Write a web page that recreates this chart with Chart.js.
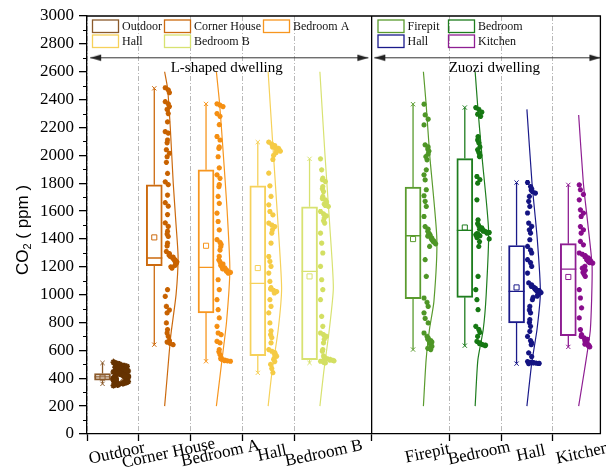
<!DOCTYPE html>
<html>
<head>
<meta charset="utf-8">
<script src="https://cdn.jsdelivr.net/npm/chart.js@4.4.0/dist/chart.umd.min.js"></script>
<style>
  html, body { margin: 0; padding: 0; background: #fff; }
  #wrap { width: 606px; height: 470px; }
</style>
</head>
<body>
<div id="wrap"><canvas id="c" width="606" height="470"></canvas></div>
<script>
// Sampling sites, left group = L-shaped dwelling, right group = Zuozi dwelling
const categories = ['Outdoor', 'Corner House', 'Bedroom A', 'Hall', 'Bedroom B', 'Firepit', 'Bedroom', 'Hall', 'Kitchen'];
const slots = [1, 2, 3, 4, 5, 7, 8, 9, 10];
const dwellings = ['L-shaped dwelling', 'Zuozi dwelling'];

// Box statistics, CO2 in ppm
const boxQ1     = [386, 1208,  869,  563,  534,  971,  981,  797,  706];
const boxMedian = [410, 1263, 1196, 1081, 1167, 1423, 1461, 1024, 1184];
const boxQ3     = [434, 1788, 1896, 1781, 1631, 1772, 1977, 1353, 1366];
const boxMean   = [405, 1411, 1351, 1191, 1131, 1399, 1482, 1052, 1127];
const whiskerLo = [360,  641,  522,  439,  510,  606,  634,  505,  625];
const whiskerHi = [510, 2481, 2369, 2095, 1975, 2367, 2343, 1805, 1788];

// Y axis tick values
const yTickStep = 200;
const yMax = 3000;

// Individual readings, ppm
const outdoorPts = [515, 508, 502, 497, 494, 490, 487, 485, 482, 479, 476, 474, 471, 469, 466, 463, 461, 458, 456, 455, 452, 450, 448, 447, 445, 443, 441, 440, 438, 436, 435, 433, 431, 430, 428, 426, 425, 423, 421, 420, 418, 417, 415, 413, 412, 410, 409, 407, 405, 404, 402, 401, 399, 397, 396, 394, 392, 391, 389, 387, 386, 384, 382, 380, 378, 376, 375, 372, 370, 368, 365, 362, 359, 356, 352, 348];
const cornerHousePts = [2485, 2470, 2450, 2385, 2370, 2350, 2330, 2300, 2240, 2170, 2160, 2110, 2090, 2040, 2015, 1990, 1950, 1870, 1810, 1790, 1715, 1660, 1635, 1575, 1515, 1490, 1455, 1435, 1418, 1370, 1350, 1310, 1295, 1285, 1275, 1270, 1262, 1255, 1250, 1245, 1240, 1235, 1228, 1220, 1210, 1200, 1190, 1036, 988, 916, 890, 869, 797, 749, 725, 701, 670, 660, 650, 641];
const bedroomAPts = [2370, 2360, 2350, 2300, 2280, 2220, 2135, 2110, 2060, 2050, 1990, 1910, 1860, 1835, 1790, 1775, 1705, 1655, 1585, 1525, 1465, 1395, 1375, 1360, 1345, 1320, 1275, 1250, 1235, 1220, 1210, 1200, 1192, 1185, 1180, 1175, 1170, 1165, 1160, 1155, 1107, 1036, 964, 892, 833, 773, 725, 713, 665, 654, 606, 590, 570, 548, 540, 535, 530, 527, 525, 522];
const hallLPts = [2095, 2080, 2070, 2060, 2055, 2050, 2045, 2040, 2030, 2020, 2000, 1970, 1872, 1781, 1705, 1645, 1597, 1573, 1514, 1500, 1489, 1466, 1442, 1370, 1274, 1239, 1203, 1155, 1095, 1050, 1040, 1030, 1022, 1012, 964, 916, 869, 797, 740, 713, 692, 654, 606, 594, 584, 575, 570, 558, 545, 535, 520, 500, 470, 440];
const bedroomBPts = [1975, 1896, 1836, 1825, 1812, 1776, 1760, 1740, 1705, 1690, 1680, 1665, 1650, 1640, 1633, 1597, 1580, 1565, 1550, 1530, 1514, 1442, 1370, 1299, 1203, 1107, 1036, 964, 844, 773, 725, 713, 701, 680, 654, 606, 594, 560, 550, 545, 540, 535, 530, 528, 525, 522, 518, 515, 512, 510];
const firepitPts = [2367, 2290, 2260, 2218, 2075, 2060, 2045, 2030, 2010, 1991, 1968, 1896, 1860, 1824, 1753, 1710, 1670, 1633, 1561, 1489, 1470, 1455, 1440, 1430, 1420, 1412, 1405, 1398, 1390, 1385, 1380, 1375, 1365, 1346, 1251, 1131, 976, 945, 916, 869, 830, 797, 725, 700, 690, 680, 670, 660, 654, 640, 629, 615, 606];
const bedroomZPts = [2343, 2330, 2310, 2295, 2280, 2134, 2110, 2090, 2060, 2040, 2020, 2000, 1991, 1848, 1825, 1800, 1681, 1537, 1510, 1495, 1480, 1470, 1466, 1460, 1455, 1450, 1446, 1442, 1438, 1434, 1430, 1426, 1422, 1418, 1410, 1400, 1380, 1346, 1131, 1036, 964, 892, 773, 750, 730, 701, 665, 655, 648, 642, 638, 634];
const hallZPts = [1805, 1776, 1760, 1750, 1740, 1729, 1705, 1670, 1633, 1586, 1514, 1490, 1465, 1442, 1394, 1346, 1320, 1299, 1251, 1230, 1203, 1155, 1084, 1070, 1060, 1050, 1045, 1040, 1035, 1030, 1025, 1020, 1015, 1010, 1000, 990, 980, 964, 916, 890, 869, 821, 800, 773, 737, 700, 670, 654, 641, 582, 555, 520, 515, 512, 510, 508, 507, 506, 505];
const kitchenPts = [1788, 1753, 1720, 1681, 1609, 1585, 1561, 1489, 1465, 1442, 1382, 1358, 1299, 1290, 1280, 1272, 1265, 1258, 1250, 1245, 1240, 1235, 1230, 1227, 1203, 1190, 1175, 1160, 1145, 1131, 1036, 976, 905, 833, 749, 713, 700, 690, 680, 670, 660, 650, 645, 640, 635, 630, 625];

// Half-violin outlines: [ppm, relative density]
const outdoorDensity = [[540, 0], [430, 1], [330, 0]];
const cornerHouseDensity = [[2600, 0], [2480, 0.22], [2200, 0.42], [1800, 0.64], [1500, 0.85], [1270, 1], [1000, 0.85], [700, 0.45], [400, 0.18], [200, 0]];
const bedroomADensity = [[2600, 0], [2370, 0.24], [2000, 0.52], [1600, 0.8], [1180, 1], [800, 0.75], [520, 0.4], [200, 0]];
const hallLDensity = [[2600, 0], [2100, 0.33], [1600, 0.67], [1050, 1], [750, 0.75], [440, 0.28], [200, 0]];
const bedroomBDensity = [[2600, 0], [2000, 0.38], [1500, 0.73], [1050, 1], [750, 0.7], [440, 0.28], [200, 0]];
const firepitDensity = [[2600, 0], [2370, 0.2], [2000, 0.47], [1400, 1], [950, 0.78], [750, 0.45], [530, 0.2], [200, 0]];
const bedroomZDensity = [[2600, 0], [2340, 0.2], [2000, 0.5], [1460, 1], [1000, 0.82], [750, 0.6], [530, 0.2], [200, 0]];
const hallZDensity = [[2330, 0], [1800, 0.38], [1400, 0.77], [1020, 1], [750, 0.75], [510, 0.36], [200, 0]];
const kitchenDensity = [[2290, 0], [1800, 0.35], [1500, 0.69], [1200, 1], [750, 0.87], [500, 0.5], [200, 0]];

const readings = [outdoorPts, cornerHousePts, bedroomAPts, hallLPts, bedroomBPts, firepitPts, bedroomZPts, hallZPts, kitchenPts];
const densities = [outdoorDensity, cornerHouseDensity, bedroomADensity, hallLDensity, bedroomBDensity, firepitDensity, bedroomZDensity, hallZDensity, kitchenDensity];

// Styling
const colors = ['#8B5A2B', '#CC6A0E', '#F7961F', '#F6D15A', '#D8E271', '#5A9B2E', '#1E7D1E', '#1A1A8A', '#8E1E92'];
const pointColors = ['#663300', '#C86200', '#F58F12', '#F5CB45', '#D3DF62', '#4E9626', '#157812', '#141482', '#880C8C'];
const SERIF = '"Liberation Serif", "Times New Roman", serif';
const SANS = '"Liberation Sans", Arial, sans-serif';
const VIOLIN_SPAN = 0.26;   // widest density outline, x units
const BOX_SHIFT = 0.2;      // box centre sits left of the slot
const BOX_HALF = 0.155;

// Beeswarm-like lateral spread: readings close in value step to the right,
// isolated readings alternate between two narrow lanes
function spread(values, tol, step, lanes) {
  const seen = [];
  return values.map((v, j) => {
    const k = seen.filter(p => Math.abs(p - v) < tol).length;
    seen.push(v);
    return 0.012 + (j % 3) * 0.022 + (k % lanes) * step;
  });
}

function arrowHead() {
  const c = document.createElement('canvas');
  c.width = 24; c.height = 8;
  const g = c.getContext('2d');
  g.fillStyle = '#222';
  g.beginPath();
  g.moveTo(12, 4); g.lineTo(1, 0.8); g.lineTo(1, 7.2); g.closePath();
  g.fill();
  return c;
}
const head = arrowHead();

const datasets = [];

// individual readings
readings.forEach((vals, i) => {
  const off = i === 0 ? spread(vals, 40, 0.034, 8) : spread(vals, 35, 0.036, 7);
  datasets.push({
    type: 'scatter',
    data: vals.map((v, j) => ({ x: slots[i] + off[j], y: v })),
    pointStyle: 'star',
    pointRadius: i === 0 ? 3 : 2.6,
    borderWidth: 1.6,
    borderColor: pointColors[i],
    backgroundColor: pointColors[i],
    order: 0
  });
});

// density outlines
densities.forEach((d, i) => {
  datasets.push({
    type: 'line',
    data: d.map(([v, w]) => ({ x: slots[i] + w * VIOLIN_SPAN, y: v })),
    borderColor: colors[i],
    borderWidth: 1.2,
    pointRadius: 0,
    tension: 0.2,
    fill: false,
    order: 1
  });
});

// boxes (Q1..Q3)
datasets.push({
  type: 'bar',
  data: slots.map((s, i) => ({ x: s - BOX_SHIFT, y: [boxQ1[i], boxQ3[i]] })),
  backgroundColor: 'rgba(0,0,0,0)',
  borderColor: colors,
  borderWidth: 1.3,
  borderSkipped: false,
  barThickness: 16,
  grouped: false,
  order: 2
});

// whiskers and median lines
slots.forEach((s, i) => {
  const c = s - BOX_SHIFT;
  datasets.push({
    type: 'line',
    data: [
      { x: c, y: whiskerLo[i] }, { x: c, y: boxQ1[i] }, { x: c, y: NaN },
      { x: c, y: boxQ3[i] }, { x: c, y: whiskerHi[i] }, { x: c, y: NaN },
      { x: c - BOX_HALF, y: boxMedian[i] }, { x: c + BOX_HALF, y: boxMedian[i] }
    ],
    borderColor: colors[i],
    borderWidth: 1.3,
    spanGaps: false,
    pointStyle: 'crossRot',
    pointRadius: ctx => (ctx.dataIndex === 0 || ctx.dataIndex === 4) ? 3 : 0,
    pointBorderColor: colors[i],
    pointBorderWidth: 1,
    order: 2
  });
});

// means
datasets.push({
  type: 'scatter',
  data: slots.map((s, i) => ({ x: s - BOX_SHIFT, y: boxMean[i] })),
  pointStyle: 'rect',
  pointRadius: 3.6,
  borderWidth: 1,
  borderColor: colors,
  backgroundColor: 'rgba(0,0,0,0)',
  order: 2
});

// dwelling extent arrows
[[0.562, 5.936], [6.052, 10.42]].forEach(([a, b]) => {
  datasets.push({
    type: 'line',
    data: [{ x: a, y: 2700 }, { x: b, y: 2700 }],
    borderColor: '#333',
    borderWidth: 1,
    pointStyle: head,
    pointRotation: [180, 0],
    pointRadius: 4,
    clip: false,
    order: 3
  });
});

const legendGroups = [
  { items: [0, 1, 2, 3, 4], cols: [5, 77, 176] },
  { items: [5, 6, 7, 8], cols: [290.5, 361] }
];

const decor = {
  id: 'decor',
  afterDraw(chart) {
    const { ctx, chartArea: a, scales: { x, y } } = chart;
    ctx.save();

    // top and right frame, dwelling divider
    ctx.strokeStyle = '#000';
    ctx.lineWidth = 1.3;
    ctx.beginPath();
    ctx.moveTo(a.left, a.top); ctx.lineTo(a.right, a.top); ctx.lineTo(a.right, a.bottom);
    const dx = x.getPixelForValue(6);
    ctx.moveTo(dx, a.top); ctx.lineTo(dx, a.bottom);
    ctx.stroke();

    // minor y ticks
    ctx.lineWidth = 1;
    ctx.beginPath();
    for (let v = yTickStep / 2; v < yMax; v += yTickStep) {
      const py = Math.round(y.getPixelForValue(v)) + 0.5;
      ctx.moveTo(a.left - 4, py); ctx.lineTo(a.left, py);
    }
    ctx.stroke();

    // category labels, tilted
    ctx.fillStyle = '#000';
    ctx.font = '17px ' + SERIF;
    ctx.textAlign = 'center';
    ctx.textBaseline = 'middle';
    categories.forEach((c, i) => {
      ctx.save();
      ctx.translate(x.getPixelForValue(slots[i]) + 4, a.bottom + 19.5);
      ctx.rotate(-12 * Math.PI / 180);
      ctx.fillText(c, 0, 0);
      ctx.restore();
    });

    // dwelling names
    ctx.font = '15px ' + SERIF;
    ctx.fillText(dwellings[0], x.getPixelForValue(3.2), y.getPixelForValue(2625));
    ctx.fillText(dwellings[1], x.getPixelForValue(8.37), y.getPixelForValue(2625));

    // y title: CO2 ( ppm )
    ctx.save();
    ctx.translate(22, (a.top + a.bottom) / 2 + 5);
    ctx.rotate(-Math.PI / 2);
    ctx.textAlign = 'left';
    ctx.textBaseline = 'alphabetic';
    const big = '17px ' + SANS, small = '11px ' + SANS;
    ctx.font = big; const w1 = ctx.measureText('CO').width;
    ctx.font = small; const w2 = ctx.measureText('2').width;
    ctx.font = big; const w3 = ctx.measureText(' ( ppm )').width;
    const sx = -(w1 + w2 + w3) / 2;
    ctx.font = big; ctx.fillText('CO', sx, 6);
    ctx.font = small; ctx.fillText('2', sx + w1, 9);
    ctx.font = big; ctx.fillText(' ( ppm )', sx + w1 + w2, 6);
    ctx.restore();

    // legends
    ctx.font = '12px ' + SERIF;
    ctx.textAlign = 'left';
    ctx.textBaseline = 'middle';
    ctx.lineWidth = 1.3;
    legendGroups.forEach(g => {
      const n = g.cols.length;
      g.items.forEach((ci, k) => {
        const lx = a.left + g.cols[k % n];
        const ly = a.top + 3.5 + Math.floor(k / n) * 15;
        ctx.strokeStyle = colors[ci];
        ctx.strokeRect(lx + 0.5, ly + 0.5, 26, 12.5);
        ctx.fillStyle = '#111';
        ctx.fillText(categories[ci], lx + 30, ly + 7);
      });
    });

    ctx.restore();
  }
};

new Chart(document.getElementById('c'), {
  type: 'bar',
  data: { datasets },
  options: {
    responsive: false,
    animation: false,
    devicePixelRatio: 1,
    layout: { padding: { left: 0, top: 16, right: 5, bottom: 0 } },
    plugins: { legend: { display: false }, tooltip: { enabled: false } },
    scales: {
      x: {
        type: 'linear',
        min: 0.5,
        max: 10.42,
        offset: false,
        afterBuildTicks: s => { s.ticks = slots.map(v => ({ value: v })); },
        afterFit: s => { s.height = 36; },
        ticks: { display: false },
        grid: {
          drawOnChartArea: true,
          color: '#b8b8b8',
          lineWidth: 1,
          tickLength: 7,
          tickColor: '#000',
          tickWidth: 1.3,
          tickBorderDash: []
        },
        border: { display: true, color: '#000', width: 1.3, dash: [5, 2, 1, 2] }
      },
      y: {
        type: 'linear',
        min: 0,
        max: yMax,
        afterFit: s => { s.width = 87; },
        ticks: {
          stepSize: yTickStep,
          padding: 5,
          color: '#000',
          font: { family: SERIF, size: 17 },
          callback: v => String(v)
        },
        grid: { drawOnChartArea: false, color: '#000', lineWidth: 1.3, tickLength: 8 },
        border: { display: true, color: '#000', width: 1.3 }
      }
    }
  },
  plugins: [decor]
});
</script>
</body>
</html>
